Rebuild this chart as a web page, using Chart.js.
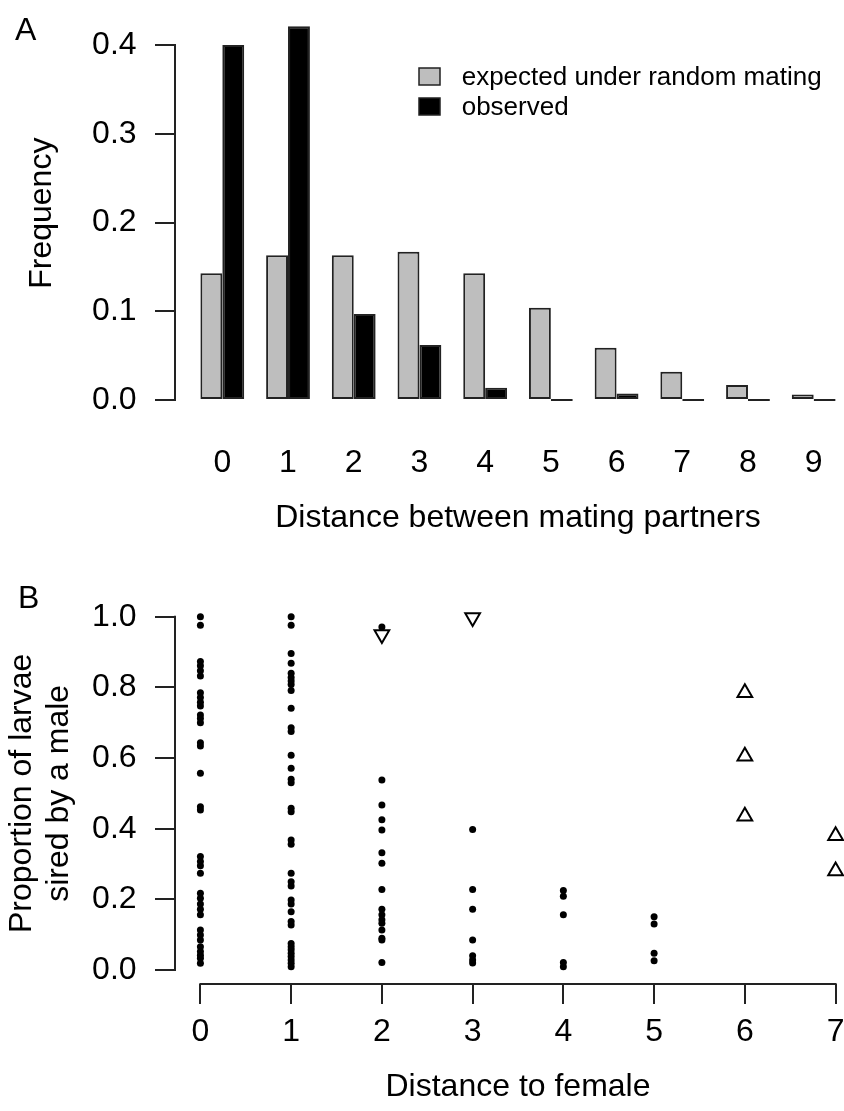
<!DOCTYPE html>
<html>
<head>
<meta charset="utf-8">
<title>Distance between mating partners</title>
<script src="https://cdn.jsdelivr.net/npm/chart.js@4.4.1/dist/chart.umd.min.js"></script>
<style>
  body { margin: 0; background: #fff; }
  #page { position: relative; width: 844px; height: 1111px; overflow: hidden; }
  canvas { position: absolute; left: 0; }
  #panelA { top: 0; }
  #panelB { top: 560px; }
</style>
</head>
<body>
<div id="page">
  <canvas id="panelA" width="861" height="560"></canvas>
  <canvas id="panelB" width="861" height="551"></canvas>
</div>
<script>
// A: frequency of distance between mating partners
const distA = [0, 1, 2, 3, 4, 5, 6, 7, 8, 9];
const expected = [0.143, 0.163, 0.163, 0.167, 0.143, 0.104, 0.059, 0.032, 0.017, 0.0064];
const observed = [0.400, 0.421, 0.097, 0.062, 0.014, 0, 0.0075, 0, 0, 0];
const freqTicks = [0, 0.1, 0.2, 0.3, 0.4];

// B: proportion of larvae sired by a male, by distance to female
const distB = [0, 1, 2, 3, 4, 5, 6, 7];
const sired0 = [1.0, 0.976, 0.873, 0.861, 0.847, 0.832, 0.785, 0.771, 0.758, 0.747, 0.722, 0.712, 0.700,
  0.643, 0.634, 0.557, 0.462, 0.453, 0.321, 0.307, 0.295, 0.274, 0.217, 0.203, 0.187, 0.172, 0.156,
  0.113, 0.099, 0.085, 0.066, 0.052, 0.042, 0.033, 0.019];
const sired1 = [1.0, 0.976, 0.896, 0.868, 0.840, 0.828, 0.818, 0.808, 0.791, 0.741, 0.686, 0.675, 0.608,
  0.571, 0.540, 0.530, 0.458, 0.448, 0.368, 0.356, 0.274, 0.250, 0.238, 0.198, 0.187, 0.165, 0.137,
  0.127, 0.075, 0.066, 0.057, 0.047, 0.038, 0.028, 0.019, 0.009];
const sired2 = [0.971, 0.538, 0.467, 0.425, 0.396, 0.332, 0.302, 0.228, 0.172, 0.156, 0.142, 0.132,
  0.113, 0.090, 0.085, 0.021];
const sired3 = [0.398, 0.228, 0.172, 0.085, 0.040, 0.028, 0.020];
const sired4 = [0.225, 0.209, 0.156, 0.021, 0.009];
const sired5 = [0.151, 0.130, 0.047, 0.026];
const upX = [6, 6, 6, 7, 7];
const upY = [0.785, 0.605, 0.435, 0.38, 0.28];
const downX = [2, 3];
const downY = [0.95, 0.998];
const propTicks = [0, 0.2, 0.4, 0.6, 0.8, 1.0];

const fam = "'Liberation Sans', Arial, sans-serif";
const ink = '#222';
const big = { family: fam, size: 32 };
Chart.defaults.font.family = fam;
Chart.defaults.color = '#000';

// keep the plot area where R put it: no extra room for overhanging labels
function noPad(s) {
  s.paddingTop = 0; s.paddingBottom = 0; s.paddingLeft = 0; s.paddingRight = 0;
}

// R style axis lines (first to last tick), panel letter and box legend
const decor = {
  id: 'decor',
  afterDraw(chart, args, o) {
    const ctx = chart.ctx, area = chart.chartArea;
    ctx.save();
    ctx.strokeStyle = ink;
    ctx.lineWidth = 2;
    ctx.lineCap = 'square';
    (o.axes || []).forEach(function (id) {
      const s = chart.scales[id];
      const a = s.getPixelForValue(s.ticks[0].value);
      const b = s.getPixelForValue(s.ticks[s.ticks.length - 1].value);
      ctx.beginPath();
      if (s.isHorizontal()) {
        ctx.moveTo(a, area.bottom); ctx.lineTo(b, area.bottom);
      } else {
        ctx.moveTo(area.left, a); ctx.lineTo(area.left, b);
      }
      ctx.stroke();
    });
    ctx.fillStyle = '#000';
    ctx.font = '32px ' + fam;
    ctx.fillText(o.tag, o.tagX, o.tagY);
    if (o.legend) {
      const L = o.legend;
      ctx.font = '26px ' + fam;
      ctx.lineWidth = 1.5;
      chart.data.datasets.forEach(function (ds, i) {
        const y = L.y + i * L.step;
        ctx.fillStyle = ds.backgroundColor;
        ctx.fillRect(L.x, y, 21, 17);
        ctx.strokeRect(L.x, y, 21, 17);
        ctx.fillStyle = '#000';
        ctx.fillText(ds.label, L.x + 42.7, y + 17);
      });
    }
    ctx.restore();
  }
};

new Chart('panelA', {
  type: 'bar',
  data: {
    datasets: [{
      label: 'expected under random mating',
      data: distA.map((d, i) => ({ x: d, y: expected[i] })),
      backgroundColor: '#bebebe',
      borderColor: ink,
      borderWidth: 2,
      borderSkipped: false
    }, {
      label: 'observed',
      data: distA.map((d, i) => ({ x: d, y: observed[i] })),
      backgroundColor: '#000',
      borderColor: ink,
      borderWidth: 2,
      borderSkipped: false,
      minBarLength: 2
    }]
  },
  options: {
    responsive: false,
    animation: false,
    layout: { autoPadding: false, padding: { top: 11.4, left: 0, right: 0, bottom: 0 } },
    datasets: { bar: { categoryPercentage: 2 / 3, barPercentage: 1 } },
    plugins: {
      legend: { display: false },
      tooltip: { enabled: false },
      decor: { axes: ['y'], tag: 'A', tagX: 15, tagY: 40, legend: { x: 419, y: 68, step: 30 } }
    },
    scales: {
      x: {
        type: 'linear', min: -0.72, max: 9.72, offset: false,
        grid: { display: false, drawTicks: false },
        border: { display: false },
        afterBuildTicks: s => { s.ticks = distA.map(v => ({ value: v })); },
        afterFit: s => { s.height = 145; noPad(s); },
        ticks: { font: big, color: '#000', padding: 28.8, autoSkip: false, maxRotation: 0, callback: v => v },
        title: { display: true, text: 'Distance between mating partners', font: big, color: '#000', padding: { top: 0, bottom: 22.8 } }
      },
      y: {
        min: -0.0168, max: 0.4378,
        grid: { drawOnChartArea: false, tickLength: 20, color: ink, lineWidth: 2 },
        border: { display: false },
        afterBuildTicks: s => { s.ticks = freqTicks.map(v => ({ value: v })); },
        afterFit: s => { s.width = 175; noPad(s); },
        ticks: { font: big, color: '#000', padding: 18.4, callback: v => v.toFixed(1) },
        title: { display: true, text: 'Frequency', font: big, color: '#000', padding: { top: 22.8, bottom: 0 } }
      }
    }
  },
  plugins: [decor]
});

const dots = [];
[sired0, sired1, sired2, sired3, sired4, sired5].forEach(function (vals, d) {
  vals.forEach(v => dots.push({ x: distB[d], y: v }));
});

new Chart('panelB', {
  type: 'scatter',
  data: {
    datasets: [{
      label: 'sired',
      data: dots,
      pointRadius: 3.5,
      pointBorderWidth: 0,
      backgroundColor: '#000',
      borderColor: '#000',
      clip: false
    }, {
      label: 'up',
      data: upX.map((d, i) => ({ x: d, y: upY[i] })),
      pointStyle: 'triangle',
      pointRadius: 8.5,
      backgroundColor: 'rgba(0,0,0,0)',
      borderColor: '#000',
      pointBorderWidth: 2,
      clip: false
    }, {
      label: 'down',
      data: downX.map((d, i) => ({ x: d, y: downY[i] })),
      pointStyle: 'triangle',
      pointRotation: 180,
      pointRadius: 8.5,
      backgroundColor: 'rgba(0,0,0,0)',
      borderColor: '#000',
      pointBorderWidth: 2,
      clip: false
    }]
  },
  options: {
    responsive: false,
    animation: false,
    layout: { autoPadding: false, padding: { top: 42.6, left: 0, right: 0, bottom: 0 } },
    plugins: {
      legend: { display: false },
      tooltip: { enabled: false },
      decor: { axes: ['x', 'y'], tag: 'B', tagX: 18, tagY: 48 }
    },
    scales: {
      x: {
        type: 'linear', min: -0.28, max: 7.28,
        grid: { drawOnChartArea: false, tickLength: 20, color: ink, lineWidth: 2 },
        border: { display: false },
        afterBuildTicks: s => { s.ticks = distB.map(v => ({ value: v })); },
        afterFit: s => { s.height = 126.9; noPad(s); },
        ticks: { font: big, color: '#000', padding: 8.8, autoSkip: false, maxRotation: 0, callback: v => v },
        title: { display: true, text: 'Distance to female', font: big, color: '#000', padding: { top: 0, bottom: 4.8 } }
      },
      y: {
        min: -0.04, max: 1.04,
        grid: { drawOnChartArea: false, tickLength: 20, color: ink, lineWidth: 2 },
        border: { display: false },
        afterBuildTicks: s => { s.ticks = propTicks.map(v => ({ value: v })); },
        afterFit: s => { s.width = 175; noPad(s); },
        ticks: { font: big, color: '#000', padding: 18.4, callback: v => v.toFixed(1) },
        title: {
          display: true, text: ['Proportion of larvae', 'sired by a male'],
          font: { family: fam, size: 32, lineHeight: 1.15 }, color: '#000', padding: { top: 3.6, bottom: 0 }
        }
      }
    }
  },
  plugins: [decor]
});
</script>
</body>
</html>
